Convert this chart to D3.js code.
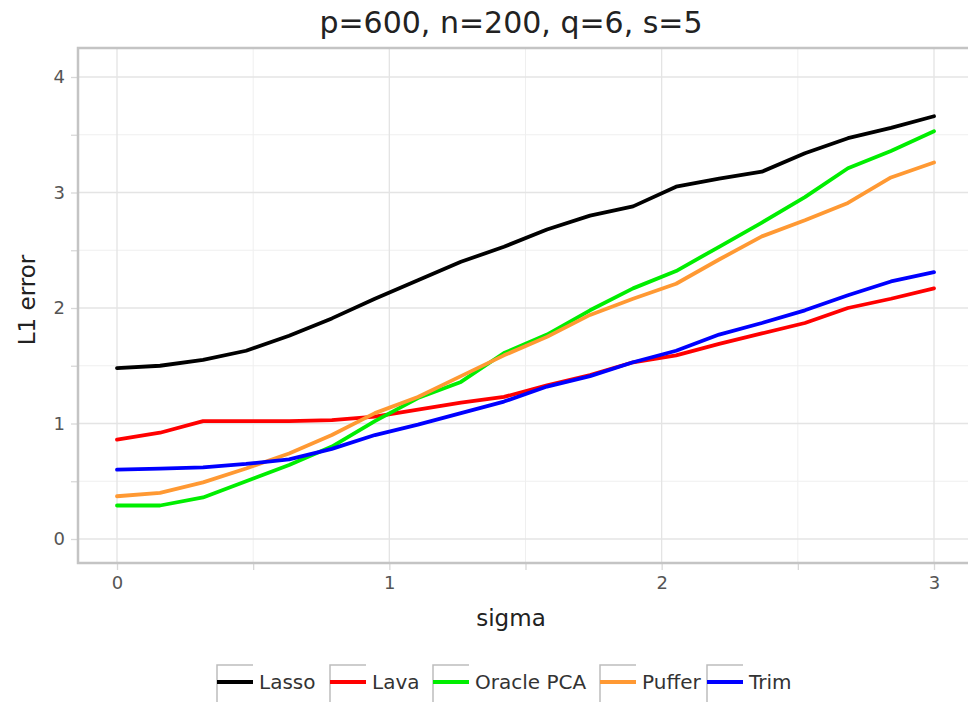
<!DOCTYPE html>
<html>
<head>
<meta charset="utf-8">
<script src="https://cdn.jsdelivr.net/npm/d3@7"></script>
<style>
  html, body { margin: 0; padding: 0; background: #fff; }
  svg { display: block; font-family: "DejaVu Sans", sans-serif; }
</style>
</head>
<body>
<svg id="chart" width="968" height="702"></svg>
<script>
// sigma grid: 20 evenly spaced noise levels from 0 to 3
const sigma = [0, 0.158, 0.316, 0.474, 0.632, 0.789, 0.947, 1.105, 1.263, 1.421,
               1.579, 1.737, 1.895, 2.053, 2.211, 2.368, 2.526, 2.684, 2.842, 3];

const seriesNames = ["Lasso", "Lava", "Oracle PCA", "Puffer", "Trim"];
const seriesColors = ["#000000", "#ff0000", "#00ee00", "#ff9933", "#0000ff"];

const lasso  = [1.48, 1.50, 1.55, 1.63, 1.76, 1.91, 2.08, 2.24, 2.40, 2.53,
                2.68, 2.80, 2.88, 3.05, 3.12, 3.18, 3.34, 3.47, 3.56, 3.66];
const lava   = [0.86, 0.92, 1.02, 1.02, 1.02, 1.03, 1.06, 1.12, 1.18, 1.23,
                1.33, 1.42, 1.53, 1.59, 1.69, 1.78, 1.87, 2.00, 2.08, 2.17];
const oracle = [0.29, 0.29, 0.36, 0.50, 0.64, 0.80, 1.02, 1.22, 1.36, 1.61,
                1.77, 1.98, 2.17, 2.32, 2.53, 2.74, 2.96, 3.21, 3.36, 3.53];
const puffer = [0.37, 0.40, 0.49, 0.61, 0.74, 0.90, 1.09, 1.23, 1.41, 1.59,
                1.75, 1.94, 2.08, 2.21, 2.42, 2.62, 2.76, 2.91, 3.13, 3.26];
const trim   = [0.60, 0.61, 0.62, 0.65, 0.69, 0.78, 0.90, 0.99, 1.09, 1.19,
                1.32, 1.41, 1.53, 1.63, 1.77, 1.87, 1.98, 2.11, 2.23, 2.31];

const seriesValues = [lasso, lava, oracle, puffer, trim];

const xMajor = [0, 1, 2, 3];
const xMinor = [0.5, 1.5, 2.5];
const yMajor = [0, 1, 2, 3, 4];
const yMinor = [0.5, 1.5, 2.5, 3.5];

const titleText = "p=600, n=200, q=6, s=5";
const xLabel = "sigma";
const yLabel = "L1 error";

const svg = d3.select("#chart");

// plot frame
const frame = { left: 78, top: 48, bottom: 563, right: 968 };

const x = d3.scaleLinear().domain([0, 3]).range([117, 934]);
const y = d3.scaleLinear().domain([0, 4]).range([539, 77]);

const gridColor = "#e4e4e4";
const minorColor = "#efefef";
const frameColor = "#c4c4c4";
const tickText = "#555";

// grid lines
const grid = svg.append("g");
grid.selectAll("line.xmin").data(xMinor).join("line")
  .attr("x1", d => x(d)).attr("x2", d => x(d))
  .attr("y1", frame.top).attr("y2", frame.bottom)
  .attr("stroke", minorColor).attr("stroke-width", 1);
grid.selectAll("line.ymin").data(yMinor).join("line")
  .attr("y1", d => y(d)).attr("y2", d => y(d))
  .attr("x1", frame.left).attr("x2", frame.right)
  .attr("stroke", minorColor).attr("stroke-width", 1);
grid.selectAll("line.xmaj").data(xMajor).join("line")
  .attr("x1", d => x(d)).attr("x2", d => x(d))
  .attr("y1", frame.top).attr("y2", frame.bottom)
  .attr("stroke", gridColor).attr("stroke-width", 1.3);
grid.selectAll("line.ymaj").data(yMajor).join("line")
  .attr("y1", d => y(d)).attr("y2", d => y(d))
  .attr("x1", frame.left).attr("x2", frame.right)
  .attr("stroke", gridColor).attr("stroke-width", 1.3);

// axes with outward ticks
const xAxis = d3.axisBottom(x).tickValues(xMajor.concat(xMinor))
  .tickFormat(d => xMajor.includes(d) ? d3.format("d")(d) : "")
  .tickSize(7).tickPadding(6);
const yAxis = d3.axisLeft(y).tickValues(yMajor.concat(yMinor))
  .tickFormat(d => yMajor.includes(d) ? d3.format("d")(d) : "")
  .tickSize(7).tickPadding(6);

const gx = svg.append("g").attr("transform", `translate(0,${frame.bottom})`).call(xAxis);
const gy = svg.append("g").attr("transform", `translate(${frame.left},0)`).call(yAxis);
[gx, gy].forEach(g => {
  g.select(".domain").remove();
  g.selectAll(".tick line").attr("stroke", "#d8d8d8").attr("stroke-width", 1.3);
  g.selectAll(".tick text").attr("fill", tickText)
    .style("font-family", "DejaVu Sans, sans-serif").style("font-size", "18px");
});

// frame: top, left and bottom edges
svg.append("path")
  .attr("d", `M${frame.right},${frame.top}H${frame.left}V${frame.bottom}H${frame.right}`)
  .attr("fill", "none").attr("stroke", frameColor).attr("stroke-width", 2.5);

// series lines
const line = d3.line().x((d, i) => x(sigma[i])).y(d => y(d));
svg.append("g").selectAll("path").data(seriesValues).join("path")
  .attr("d", d => line(d))
  .attr("fill", "none")
  .attr("stroke", (d, i) => seriesColors[i])
  .attr("stroke-width", 3.8)
  .attr("stroke-linejoin", "round")
  .attr("stroke-linecap", "round");

// title and axis labels
svg.append("text").attr("x", 511).attr("y", 33).attr("text-anchor", "middle")
  .style("font-size", "30px").attr("fill", "#222").text(titleText);
svg.append("text").attr("x", 511).attr("y", 626).attr("text-anchor", "middle")
  .style("font-size", "23px").attr("fill", "#222").text(xLabel);
svg.append("text").attr("transform", "translate(35,300) rotate(-90)")
  .attr("text-anchor", "middle")
  .style("font-size", "23px").attr("fill", "#222").text(yLabel);

// legend
const keyX = [217, 330, 433, 600, 707];
const legend = svg.append("g");
seriesNames.forEach((name, i) => {
  const g = legend.append("g").attr("transform", `translate(${keyX[i]},665)`);
  g.append("path").attr("d", "M36,0H0V40")
    .attr("fill", "none").attr("stroke", "#bdbdbd").attr("stroke-width", 1.5);
  g.append("line").attr("x1", 0).attr("x2", 36).attr("y1", 17).attr("y2", 17)
    .attr("stroke", seriesColors[i]).attr("stroke-width", 4);
  g.append("text").attr("x", 42).attr("y", 24)
    .style("font-size", "20px").attr("fill", "#333").text(name);
});
</script>
</body>
</html>
